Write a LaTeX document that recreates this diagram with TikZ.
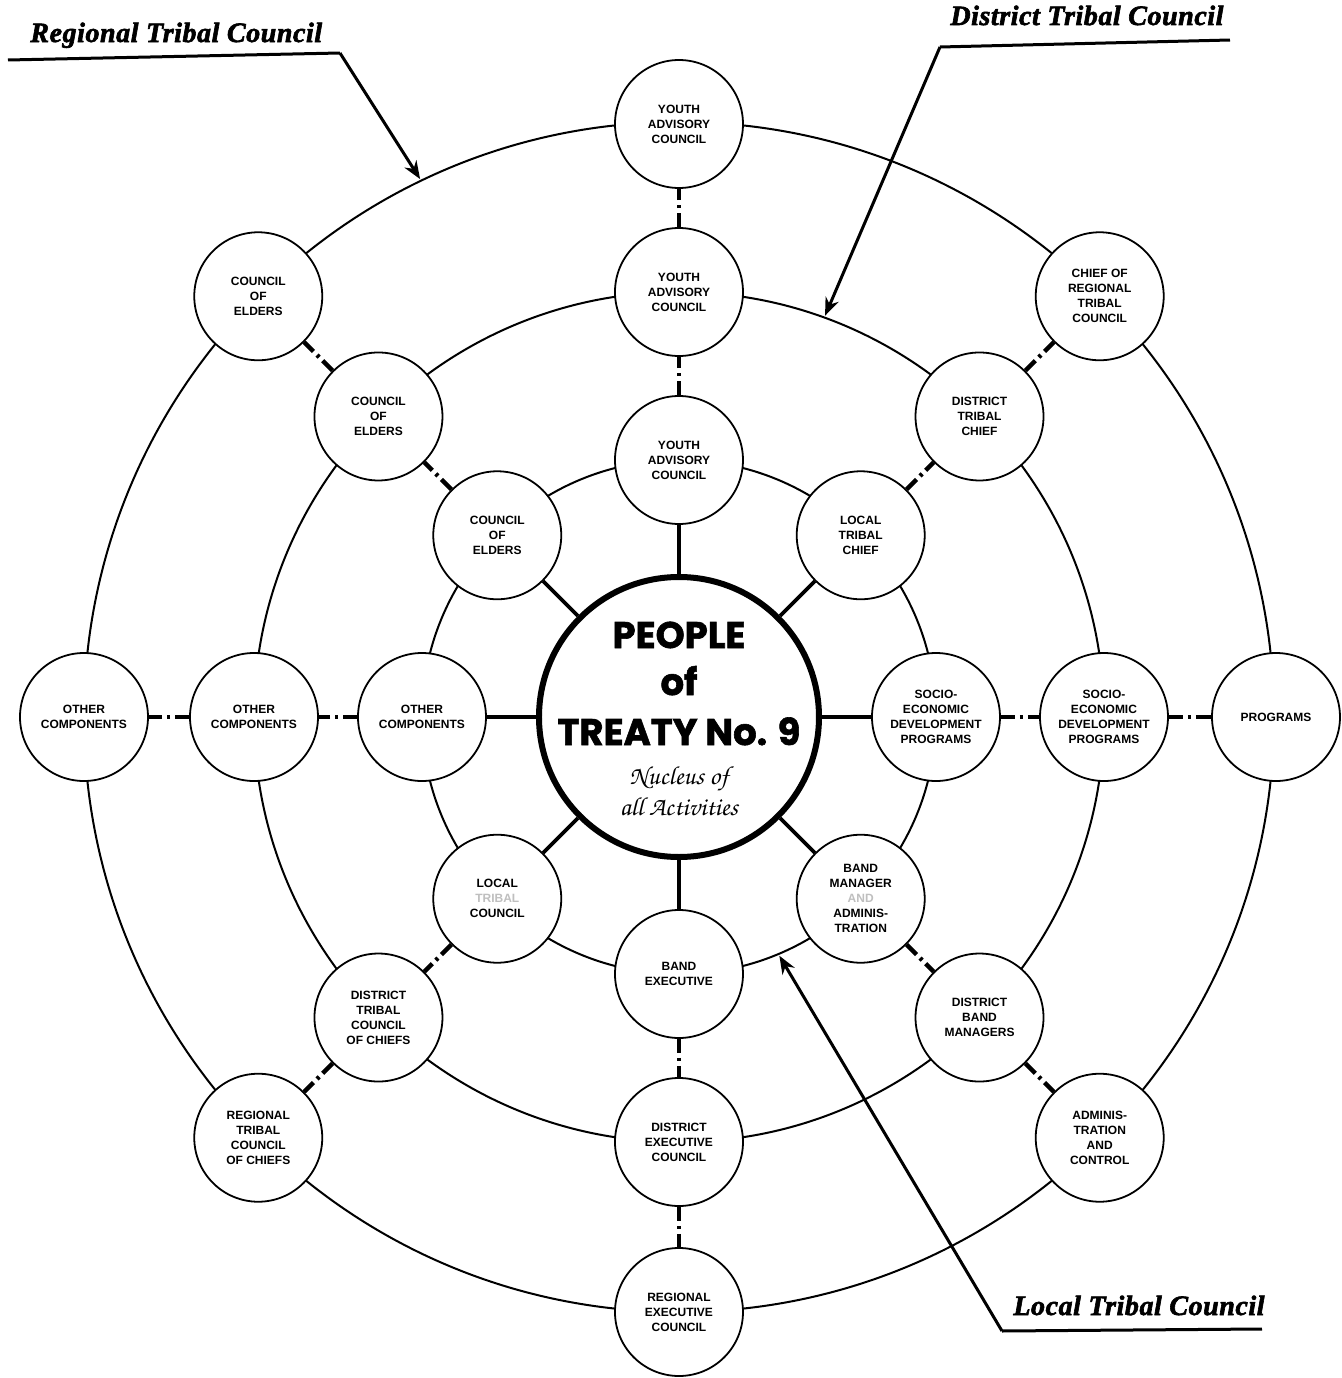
\documentclass[tikz,border=0pt]{standalone}
\usepackage{fontspec}
\usetikzlibrary{arrows.meta}
\setmainfont{Liberation Sans}
\newfontfamily\heavyfam{Poppins}[BoldFeatures={FakeBold=1.6}]
\newfontfamily\serifam{Liberation Serif}[BoldItalicFeatures={FakeBold=2.2, LetterSpace=2}]
\newcommand\nodefnt{\fontsize{6}{7.5}\selectfont\bfseries}
\newcommand\lblfnt{\serifam\fontsize{14}{16}\selectfont\bfseries\itshape}
\newcommand\bigfnt{\heavyfam\fontsize{18.5}{20}\selectfont\bfseries}
\newcommand\scriptfnt{\fontsize{13}{15}\usefont{T1}{pzc}{mb}{it}}
\tikzset{
  ring/.style={line width=1pt},
  unit/.style={circle, draw, line width=0.9pt, fill=white, minimum size=64pt,
    inner sep=0pt, align=center, font=\nodefnt},
  spoke/.style={line width=1.8pt},
  dd/.style={line width=2.2pt, dash pattern=on 7pt off 2.5pt on 1.5pt off 2.5pt on 8pt},
  callout/.style={line width=1.5pt, -{Stealth[length=9pt,width=7pt]}},
  uline/.style={line width=1.5pt},
  lbl/.style={anchor=base west, inner sep=0pt, font=\lblfnt}
}
\begin{document}
\begin{tikzpicture}[x=0.5pt,y=0.5pt]
\useasboundingbox (-679,-661) rectangle (662,717);
% rings
\draw[ring] (0,0) circle[radius=595];
\draw[ring] (0,0) circle[radius=425];
\draw[ring] (0,0) circle[radius=257];
% centre
\node[circle, draw, line width=3pt, fill=white, minimum size=140pt, inner sep=0pt] (c) at (0,0) {};
\node[anchor=base, inner sep=0pt, font=\bigfnt] (t1) at (0,69) {PEOPLE};
\node[anchor=base, inner sep=0pt, font=\bigfnt] (t2) at (0,22) {of};
\node[anchor=base, inner sep=0pt, font=\bigfnt] (t3) at (0,-28) {TREATY No. 9};
\node[anchor=base, inner sep=0pt, font=\scriptfnt] (t4) at (0,-67) {Nucleus of};
\node[anchor=base, inner sep=0pt, font=\scriptfnt] (t5) at (0,-98) {all Activities};
% outer ring nodes
\node[unit] (o90)  at (90:593)   {YOUTH\\ADVISORY\\COUNCIL};
\node[unit] (o45)  at (45:595)   {CHIEF OF\\REGIONAL\\TRIBAL\\COUNCIL};
\node[unit] (o0)   at (0:597)    {PROGRAMS};
\node[unit] (om45) at (-45:595)  {ADMINIS-\\TRATION\\AND\\CONTROL};
\node[unit] (om90) at (-90:595)  {REGIONAL\\EXECUTIVE\\COUNCIL};
\node[unit] (om135) at (-135:595) {REGIONAL\\TRIBAL\\COUNCIL\\OF CHIEFS};
\node[unit] (o180) at (180:595)  {OTHER\\COMPONENTS};
\node[unit] (o135) at (135:595)  {COUNCIL\\OF\\ELDERS};
% middle ring nodes
\node[unit] (m90)  at (90:425)   {YOUTH\\ADVISORY\\COUNCIL};
\node[unit] (m45)  at (45:425)   {DISTRICT\\TRIBAL\\CHIEF};
\node[unit] (m0)   at (0:425)    {SOCIO-\\ECONOMIC\\DEVELOPMENT\\PROGRAMS};
\node[unit] (mm45) at (-45:425)  {DISTRICT\\BAND\\MANAGERS};
\node[unit] (mm90) at (-90:425)  {DISTRICT\\EXECUTIVE\\COUNCIL};
\node[unit] (mm135) at (-135:425) {DISTRICT\\TRIBAL\\COUNCIL\\OF CHIEFS};
\node[unit] (m180) at (180:425)  {OTHER\\COMPONENTS};
\node[unit] (m135) at (135:425)  {COUNCIL\\OF\\ELDERS};
% inner ring nodes
\node[unit] (i90)  at (90:257)   {YOUTH\\ADVISORY\\COUNCIL};
\node[unit] (i45)  at (45:257)   {LOCAL\\TRIBAL\\CHIEF};
\node[unit] (i0)   at (0:257)    {SOCIO-\\ECONOMIC\\DEVELOPMENT\\PROGRAMS};
\node[unit] (im45) at (-45:257)  {BAND\\MANAGER\\{\color{black!25}AND}\\ADMINIS-\\TRATION};
\node[unit] (im90) at (-90:257)  {BAND\\EXECUTIVE};
\node[unit] (im135) at (-135:257) {LOCAL\\{\color{black!25}TRIBAL}\\COUNCIL};
\node[unit] (i180) at (180:257)  {OTHER\\COMPONENTS};
\node[unit] (i135) at (135:257)  {COUNCIL\\OF\\ELDERS};
% spokes from centre
\foreach \n in {i90,i45,i0,im45,im90,im135,i180,i135} \draw[spoke] (c) -- (\n);
% dash-dot links
\draw[dd] (i90) -- (m90);   \draw[dd] (m90) -- (o90);
\draw[dd] (i45) -- (m45);   \draw[dd] (m45) -- (o45);
\draw[dd] (i0) -- (m0);     \draw[dd] (m0) -- (o0);
\draw[dd] (im45) -- (mm45); \draw[dd] (mm45) -- (om45);
\draw[dd] (im90) -- (mm90); \draw[dd] (mm90) -- (om90);
\draw[dd] (im135) -- (mm135); \draw[dd] (mm135) -- (om135);
\draw[dd] (i180) -- (m180); \draw[dd] (m180) -- (o180);
\draw[dd] (i135) -- (m135); \draw[dd] (m135) -- (o135);
% callouts
\node[lbl] (lr) at (-649,675) {Regional Tribal Council};
\node[lbl] (ld) at (271,692) {District Tribal Council};
\node[lbl] (ll) at (334,-598) {Local Tribal Council};
\coordinate (r0) at (-671,657);
\coordinate (r1) at (-339,664);
\coordinate (rt) at (115.7:597);
\coordinate (d0) at (551,677);
\coordinate (d1) at (261,670);
\coordinate (dt) at (70:427);
\coordinate (l0) at (583,-612);
\coordinate (l1) at (323,-614);
\coordinate (lt) at (-67.2:259);
\draw[uline] (r0) -- (r1);
\draw[callout] (r1) -- (rt);
\draw[uline] (d0) -- (d1);
\draw[callout] (d1) -- (dt);
\draw[uline] (l0) -- (l1);
\draw[callout] (l1) -- (lt);
\end{tikzpicture}
\end{document}
